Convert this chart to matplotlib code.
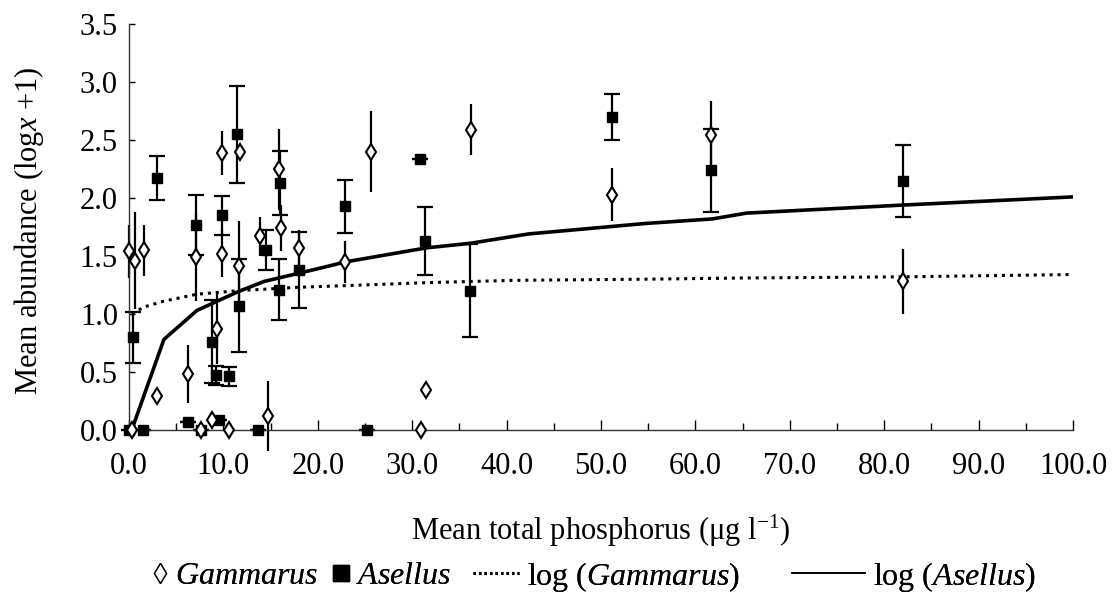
import matplotlib
matplotlib.use("Agg")
import matplotlib.pyplot as plt
from matplotlib.lines import Line2D

plt.rcParams['font.family'] = ['Liberation Serif', 'DejaVu Serif']
plt.rcParams['mathtext.fontset'] = 'custom'
plt.rcParams['mathtext.rm'] = 'Liberation Serif'
plt.rcParams['mathtext.it'] = 'Liberation Serif:italic'

# Gammarus (open diamonds): total P, mean abundance, error
gam_x = [0.0, 0.6, 1.6, 3.0, 0.3, 6.2, 7.1, 7.6, 9.8, 9.9, 9.3, 8.8, 10.6, 11.8,
         11.6, 13.9, 14.7, 15.9, 16.1, 18.0, 22.9, 25.6, 30.9, 31.5, 36.2, 51.2, 61.7, 82.0]
gam_y = [1.54, 1.46, 1.55, 0.29, 0.0, 0.48, 1.49, 0.0, 2.39, 1.52, 0.87, 0.08, 0.0, 2.40,
         1.41, 1.67, 0.12, 2.25, 1.74, 1.57, 1.45, 2.40, 0.0, 0.34, 2.59, 2.03, 2.54, 1.28]
gam_err = [0.23, 0.42, 0.22, 0.07, 0.0, 0.25, 0.38, 0.0, 0.19, 0.2, 0.3, 0.0, 0.0, 0.0,
           0.39, 0.17, 0.3, 0.35, 0.2, 0.15, 0.18, 0.35, 0.0, 0.06, 0.22, 0.23, 0.3, 0.28]

# Asellus (filled squares)
ase_x = [0.0, 0.43, 1.5, 3.0, 6.2, 7.1, 7.6, 8.8, 9.2, 9.5, 9.9, 10.6, 11.4, 11.7,
         13.7, 14.5, 15.9, 16.0, 18.0, 22.9, 25.2, 30.8, 31.4, 36.1, 51.2, 61.7, 82.0]
ase_y = [0.0, 0.80, 0.0, 2.17, 0.07, 1.77, 0.0, 0.76, 0.47, 0.08, 1.85, 0.46, 2.55, 1.07,
         0.0, 1.55, 1.21, 2.13, 1.38, 1.93, 0.0, 2.34, 1.63, 1.20, 2.70, 2.24, 2.15]
ase_err = [0.0, 0.22, 0.0, 0.19, 0.0, 0.26, 0.0, 0.36, 0.08, 0.0, 0.17, 0.08, 0.42, 0.4,
           0.0, 0.17, 0.26, 0.28, 0.33, 0.23, 0.0, 0.0, 0.29, 0.40, 0.2, 0.36, 0.31]

# fitted log curves (vertices)
fit_gam_x = [0.3, 1.6, 3.7, 7.2, 11.5, 18.0, 25.0, 31.5, 41.0, 55.0, 65.0, 82.0, 100.0]
fit_gam_y = [1.0, 1.06, 1.11, 1.17, 1.2, 1.23, 1.25, 1.27, 1.29, 1.30, 1.31, 1.32, 1.34]
fit_ase_x = [0.3, 3.7, 7.2, 11.5, 14.3, 20.0, 23.0, 31.5, 36.2, 42.3, 54.6, 61.8, 65.4, 82.1, 100.0]
fit_ase_y = [0.0, 0.78, 1.03, 1.19, 1.28, 1.39, 1.45, 1.57, 1.61, 1.69, 1.78, 1.82, 1.87, 1.94, 2.01]

fig = plt.figure(figsize=(11.12, 6.07), dpi=100)
ax = fig.add_axes([0.116, 0.292, 0.849, 0.668])

ax.plot(fit_gam_x, fit_gam_y, color='black', lw=2.2, linestyle=(0, (1.0, 1.6)))
ax.plot(fit_ase_x, fit_ase_y, color='black', lw=2.6)

ax.errorbar(gam_x, gam_y, yerr=gam_err, fmt='none', ecolor='black', elinewidth=1.6,
            capsize=0, clip_on=False)
ax.errorbar(ase_x, ase_y, yerr=ase_err, fmt='none', ecolor='black', elinewidth=1.6,
            capsize=6, capthick=1.6, clip_on=False)
ax.plot(ase_x, ase_y, linestyle='none', marker='s', markersize=7.5, color='black',
        clip_on=False, zorder=4)
ax.plot(gam_x, gam_y, linestyle='none', marker='d', markersize=8.5, markerfacecolor='white',
        markeredgecolor='black', markeredgewidth=1.5, clip_on=False, zorder=5)

ax.set_xlim(0, 100)
ax.set_ylim(0, 3.5)
ax.set_xticks([i * 10 for i in range(11)])
ax.set_xticks([i * 5 for i in range(21)], minor=True)
ax.set_xticklabels(['%.1f' % (i * 10) for i in range(11)])
ax.set_yticks([i * 0.5 for i in range(8)])
ax.set_yticklabels(['%.1f' % (i * 0.5) for i in range(8)])
ax.tick_params(axis='x', which='major', direction='in', length=7, width=1, pad=16, labelsize=22)
ax.tick_params(axis='x', which='minor', direction='in', length=5, width=1)
ax.tick_params(axis='y', direction='in', length=4, width=1, pad=8, labelsize=22)
for s in ['top', 'right']:
    ax.spines[s].set_visible(False)
for s in ['left', 'bottom']:
    ax.spines[s].set_linewidth(1.0)
    ax.spines[s].set_color('#333333')

ax.set_xlabel('Mean total phosphorus (μg l$^{-1}$)', fontsize=22)
ax.xaxis.set_label_coords(0.5, -0.205)
ax.set_ylabel('Mean abundance (log$\\it{x}$ +1)', fontsize=22)
ax.yaxis.set_label_coords(-0.088, 0.49)

# legend below the plot, one key per entry so each key can have its own length
h_gam = Line2D([], [], linestyle='none', marker='d', markersize=10, markerfacecolor='white',
               markeredgecolor='black', markeredgewidth=1.0)
h_ase = Line2D([], [], linestyle='none', marker='s', markersize=11, color='black')
h_fg = Line2D([], [], color='black', lw=2.2, linestyle=(0, (0.8, 1.0)))
h_fa = Line2D([], [], color='black', lw=1.2)
entries = [
    (h_gam, '$\\it{Gammarus}$', 0.137, 0.45),
    (h_ase, '$\\it{Asellus}$', 0.300, 0.45),
    (h_fg, 'log ($\\it{Gammarus}$)', 0.425, 1.45),
    (h_fa, 'log ($\\it{Asellus}$)', 0.712, 2.3),
]
for h, lab, x0, hl in entries:
    fig.add_artist(fig.legend([h], [lab], loc='center left', bbox_to_anchor=(x0, 0.05),
                              frameon=False, fontsize=23, handlelength=hl,
                              handletextpad=0.25, borderpad=0, borderaxespad=0))

fig.savefig('out.png', dpi=100)
